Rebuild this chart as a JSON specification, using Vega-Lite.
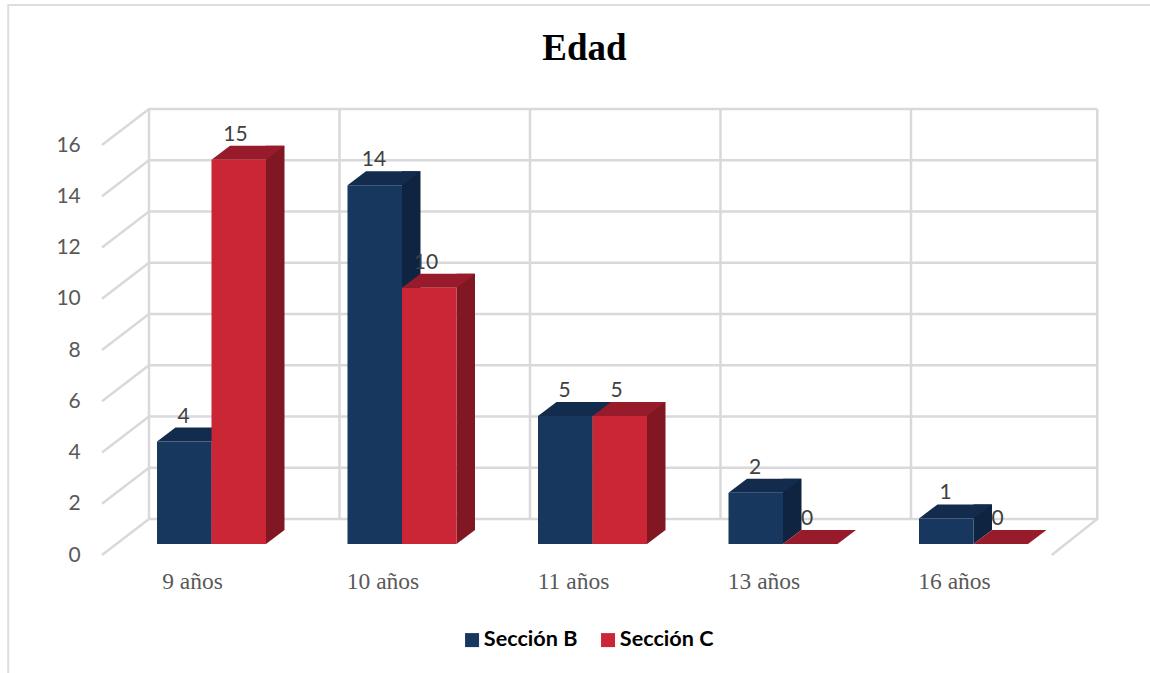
{"$schema":"https://vega.github.io/schema/vega-lite/v6.json","width":952.5,"height":410,"autosize":{"type":"none"},"padding":{"left":116.25,"top":134,"right":81.25,"bottom":129},"background":"white","view":{"stroke":null},"config":{"font":"Lato"},
"title":{"text":"Edad","font":"Liberation Serif","fontSize":37,"fontWeight":"bold","color":"#000000","anchor":"middle","dx":-8,"dy":67,"offset":0},
"datasets":{"barras":[{"edad":"9 años","serie":"Sección B","valor":4},{"edad":"9 años","serie":"Sección C","valor":15},{"edad":"10 años","serie":"Sección B","valor":14},{"edad":"10 años","serie":"Sección C","valor":10},{"edad":"11 años","serie":"Sección B","valor":5},{"edad":"11 años","serie":"Sección C","valor":5},{"edad":"13 años","serie":"Sección B","valor":2},{"edad":"13 años","serie":"Sección C","valor":0},{"edad":"16 años","serie":"Sección B","valor":1},{"edad":"16 años","serie":"Sección C","valor":0}],
"rejilla":[{"g":0},{"g":2},{"g":4},{"g":6},{"g":8},{"g":10},{"g":12},{"g":14},{"g":16}],
"categorias":[{"edad":"9 años"},{"edad":"10 años"},{"edad":"11 años"},{"edad":"13 años"},{"edad":"16 años"}]},
"encoding":{"x":{"field":"edad","type":"nominal","sort":null,"title":null,"scale":{"domain":["9 años","10 años","11 años","13 años","16 años"],"paddingInner":0,"paddingOuter":0},"axis":{"orient":"bottom","domain":false,"ticks":false,"labelAngle":0,"labelFont":"Liberation Serif","labelFontSize":23.5,"labelColor":"#595959","labelPadding":25,"labelOffset":-19,"grid":false}}},
"layer":[
{"data":{"name":"rejilla"},"mark":{"type":"point","filled":false,"opacity":1,"size":4,"stroke":"#d9d9d9","strokeWidth":2.5,"shape":"M-14.25 11 L32.75 -25 L981 -25"},"encoding":{"x":{"datum":"9 años","type":"nominal","bandPosition":0},"y":{"field":"g","type":"quantitative","title":null,"scale":{"domain":[0,16],"nice":false},"axis":{"orient":"left","values":[0,2,4,6,8,10,12,14,16],"domain":false,"ticks":false,"grid":false,"labelFont":"Lato","labelFontSize":21,"labelColor":"#595959","labelPadding":36,"labelOffset":11}}}},
{"data":{"name":"categorias"},"mark":{"type":"point","filled":false,"opacity":1,"size":4,"stroke":"#d9d9d9","strokeWidth":2.5,"shape":"M32.75 -25 L32.75 -435"},"encoding":{"x":{"field":"edad","type":"nominal","bandPosition":0},"y":{"datum":0,"type":"quantitative"}}},
{"data":{"name":"categorias"},"transform":[{"filter":"datum.edad==='16 años'"}],"mark":{"type":"point","filled":false,"opacity":1,"size":4,"stroke":"#d9d9d9","strokeWidth":2.5,"shape":"M-17 11 L28.5 -25 L28.5 -435"},"encoding":{"x":{"field":"edad","type":"nominal","bandPosition":1},"y":{"datum":0,"type":"quantitative"}}},
{"data":{"name":"categorias"},"transform":[{"filter":"datum.edad==='9 años'"}],"mark":{"type":"point","filled":false,"opacity":1,"size":4,"stroke":"#dedede","strokeWidth":2,"shape":"M1034 -129 L-108 -129 L-108 540"},"encoding":{"x":{"field":"edad","type":"nominal","bandPosition":0},"y":{"datum":16,"type":"quantitative"}}},
{"data":{"name":"barras"},"transform":[{"filter":"datum.serie==='Sección B' && datum.valor>0"}],"mark":{"type":"bar","width":18.5,"xOffset":9.25,"yOffset":-14,"y2Offset":-14,"color":"#0f2440"},"encoding":{"y":{"field":"valor","type":"quantitative"}}},
{"data":{"name":"barras"},"transform":[{"filter":"datum.serie==='Sección B' && datum.valor>0"}],"mark":{"type":"point","filled":true,"opacity":1,"size":4,"color":"#0f2440","shape":"M0 0 L0 -14 L18.5 -14 Z"},"encoding":{"y":{"datum":0,"type":"quantitative"}}},
{"data":{"name":"barras"},"transform":[{"filter":"datum.serie==='Sección B'"}],"mark":{"type":"point","filled":true,"opacity":1,"size":4,"color":"#132b4c","shape":"M-54.5 0 L0 0 L18.5 -14 L-36 -14 Z"},"encoding":{"y":{"field":"valor","type":"quantitative"}}},
{"data":{"name":"barras"},"transform":[{"filter":"datum.serie==='Sección B'"}],"mark":{"type":"bar","width":54.5,"xOffset":-27.25},"encoding":{"y":{"field":"valor","type":"quantitative"},"color":{"field":"serie","type":"nominal","title":null,"scale":{"domain":["Sección B","Sección C"],"range":["#17375e","#cb2636"]},"legend":{"orient":"none","legendX":345,"legendY":495,"direction":"horizontal","columns":2,"symbolType":"square","symbolSize":196,"symbolStrokeWidth":0,"labelFont":"Lato","labelFontWeight":"bold","labelFontSize":21.6,"labelColor":"#000000","columnPadding":19,"labelOffset":1}}}},
{"data":{"name":"barras"},"transform":[{"filter":"datum.serie==='Sección C' && datum.valor>0"}],"mark":{"type":"bar","width":18.5,"xOffset":63.75,"yOffset":-14,"y2Offset":-14,"color":"#811722"},"encoding":{"y":{"field":"valor","type":"quantitative"}}},
{"data":{"name":"barras"},"transform":[{"filter":"datum.serie==='Sección C' && datum.valor>0"}],"mark":{"type":"point","filled":true,"opacity":1,"size":4,"color":"#811722","shape":"M54.5 0 L54.5 -14 L73 -14 Z"},"encoding":{"y":{"datum":0,"type":"quantitative"}}},
{"data":{"name":"barras"},"transform":[{"filter":"datum.serie==='Sección C'"}],"mark":{"type":"point","filled":true,"opacity":1,"size":4,"color":"#981b2b","shape":"M0 0 L54.5 0 L73 -14 L18.5 -14 Z"},"encoding":{"y":{"field":"valor","type":"quantitative"}}},
{"data":{"name":"barras"},"transform":[{"filter":"datum.serie==='Sección C' && datum.valor>0"}],"mark":{"type":"bar","width":54.5,"xOffset":27.25},"encoding":{"y":{"field":"valor","type":"quantitative"},"color":{"field":"serie","type":"nominal","title":null}}},
{"data":{"name":"barras"},"transform":[{"filter":"datum.serie==='Sección B'"}],"mark":{"type":"text","font":"Lato","fontSize":21,"color":"#404040","xOffset":-28,"yOffset":-25},"encoding":{"y":{"field":"valor","type":"quantitative"},"text":{"field":"valor","type":"quantitative"}}},
{"data":{"name":"barras"},"transform":[{"filter":"datum.serie==='Sección C'"}],"mark":{"type":"text","font":"Lato","fontSize":21,"color":"#404040","xOffset":24,"yOffset":-25},"encoding":{"y":{"field":"valor","type":"quantitative"},"text":{"field":"valor","type":"quantitative"}}}
]}
